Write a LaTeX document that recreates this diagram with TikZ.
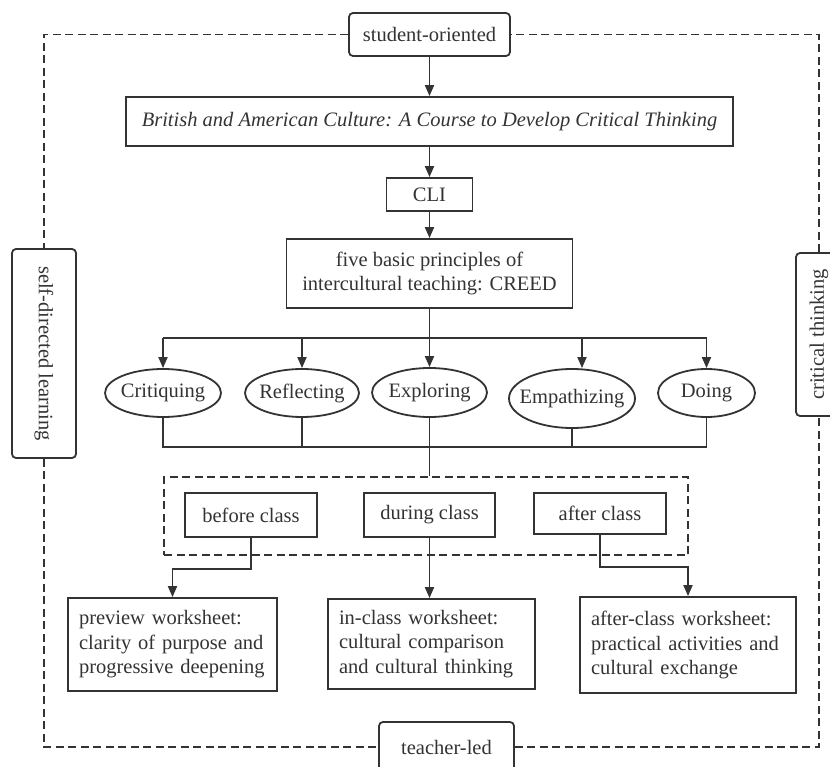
\documentclass[tikz,border=0pt]{standalone}
\usepackage{fontspec}
\setmainfont{Liberation Serif}
\usetikzlibrary{arrows.meta,shapes.geometric}
\definecolor{ink}{HTML}{333333}
\begin{document}
\begin{tikzpicture}[x=1pt,y=-1pt,
  font=\fontsize{20.5}{24.5}\selectfont, text=ink,
  box/.style={draw=ink, line width=1.8pt, inner sep=0pt, align=center},
  rbox/.style={box, rounded corners=4pt},
  oval/.style={draw=ink, line width=1.8pt, ellipse, inner sep=0pt},
  wbox/.style={box, align=left, inner xsep=11pt, inner ysep=0pt},
  conn/.style={draw=ink, line width=1.8pt},
  arr/.style={conn, -{Triangle[length=11pt,width=9pt]}},
  dline/.style={draw=ink, line width=1.6pt, dash pattern=on 8pt off 4.5pt}]
\useasboundingbox (0,0) rectangle (830,767);

% top chain
\node[rbox, minimum width=161pt, minimum height=43pt] (so) at (429.5,34.5) {student-oriented};
\node[box, minimum width=607pt, minimum height=49pt, font=\fontsize{20.5}{24.5}\selectfont\itshape] (brit) at (429.5,121.5) {British and American Culture: A Course to Develop Critical Thinking};
\node[box, minimum width=86pt, minimum height=33pt] (cli) at (429.5,194.5) {CLI};
\node[box, minimum width=286pt, minimum height=69pt] (five) at (429.5,273.5) {five basic principles of\\intercultural teaching: CREED};

% CREED ellipses
\node[oval, minimum width=116pt, minimum height=48pt, label=center:Critiquing] (cri) at (163,393) {};
\node[oval, minimum width=114pt, minimum height=48pt, label=center:Reflecting] (ref) at (302,393) {};
\node[oval, minimum width=115pt, minimum height=49pt, label=center:Exploring] (exp) at (429.5,392.5) {};
\node[oval, minimum width=126pt, minimum height=59pt, label=center:Empathizing] (emp) at (572,398.5) {};
\node[oval, minimum width=97pt, minimum height=48pt, label=center:Doing] (doi) at (706.5,393) {};

\coordinate (top) at (429.5,338);
\coordinate (bot) at (429.5,447);

% class group
\node[dline, minimum width=524pt, minimum height=78pt, inner sep=0pt] (grp) at (426,516) {};
\node[box, minimum width=132pt, minimum height=44pt] (bc) at (251,515) {before class};
\node[box, minimum width=131pt, minimum height=44pt] (dc) at (429.5,515) {during class};
\node[box, minimum width=132pt, minimum height=41pt] (ac) at (600,513.5) {after class};

% worksheets
\node[wbox, text width=187pt, minimum height=93pt] (pre) at (172.5,644.5) {\mbox{preview worksheet:}\\\mbox{clarity of purpose and}\\\mbox{progressive deepening}};
\node[wbox, text width=185pt, minimum height=90pt] (icw) at (431.5,644) {\mbox{in-class worksheet:}\\\mbox{cultural comparison}\\\mbox{and cultural thinking}};
\node[wbox, text width=194pt, minimum height=96pt] (acw) at (688,645) {\mbox{after-class worksheet:}\\\mbox{practical activities and}\\\mbox{cultural exchange}};

% frame labels
\node[rbox, rotate=-90, minimum width=209pt, minimum height=64pt] (lb) at (44,353.5) {self-directed learning};
\node[rbox, rotate=90, minimum width=163pt, minimum height=46pt] (rb) at (819,334.5) {critical thinking};
\node[rbox, minimum width=135pt, minimum height=50pt] (tl) at (446.5,747) {teacher-led};

% outer dashed frame
\draw[dline] (so.west) -| (lb.west);
\draw[dline] (lb.east) |- (tl.west);
\draw[dline] (tl.east) -| (rb.west);
\draw[dline] (rb.east) |- (so.east);

% connectors
\draw[arr] (so.south) -- (so.south |- brit.north);
\draw[arr] (cli.north |- brit.south) -- (cli.north);
\draw[arr] (cli.south) -- (five.north);
\draw[conn] (five.south) -- (top);
\draw[conn] (cri.north |- top) -- (doi.north |- top);
\draw[arr] (cri.north |- top) -- (cri.north);
\draw[arr] (ref.north |- top) -- (ref.north);
\draw[arr] (top) -- (exp.north);
\draw[arr] ([xshift=10pt]emp.north |- top) -- ([xshift=10pt]emp.north);
\draw[arr] (doi.north |- top) -- (doi.north);

\draw[conn] (cri.south) |- (bot) -| (doi.south);
\draw[conn] (ref.south) -- (ref.south |- bot);
\draw[conn] (emp.south) -- (emp.south |- bot);
\draw[conn] (exp.south) -- (exp.south |- grp.north);

\draw[arr] (bc.south) -- ++(0,31) -| (pre.north);
\draw[arr] (dc.south) -- (dc.south |- icw.north);
\draw[arr] (ac.south) -- ++(0,32) -| (acw.north);
\end{tikzpicture}
\end{document}
